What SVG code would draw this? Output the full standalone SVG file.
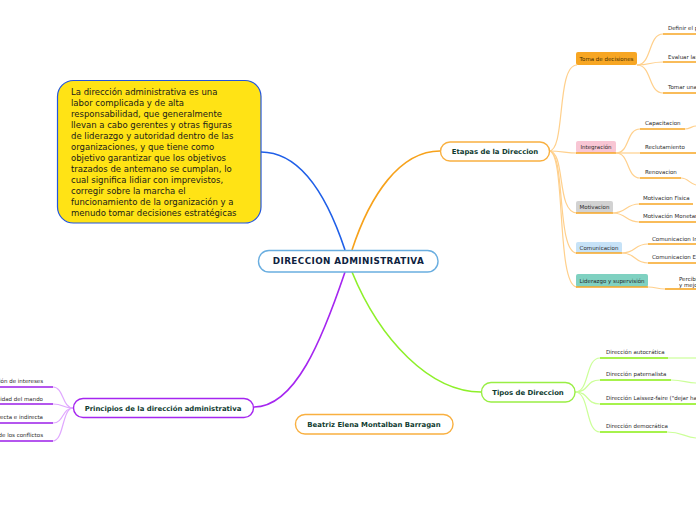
<svg xmlns="http://www.w3.org/2000/svg" width="696" height="520" viewBox="0 0 696 520">
<style>
.t{font-family:"DejaVu Sans",Verdana,sans-serif;fill:#2b2b2b}
.s{font-size:5.5px}
.m{font-size:6.9px;font-weight:bold;fill:#0f3b30;text-anchor:middle}
.lo{stroke:#ffd08c;stroke-width:1.2;fill:none}
.bo{stroke:#f7a623;stroke-width:1.6;fill:none}
.lg{stroke:#ccff99;stroke-width:1.2;fill:none}
.bg{stroke:#88ee11;stroke-width:1.6;fill:none}
.lp{stroke:#e0a8ff;stroke-width:1.2;fill:none}
.bp{stroke:#9b1ee8;stroke-width:1.6;fill:none}
</style>
<rect width="696" height="520" fill="#ffffff"/>
<g id="connectors">
<path d="M345,250 C330,205 305,152 261,152" stroke="#1f5fe8" stroke-width="1.6" fill="none"/>
<path d="M352,250 C370,195 400,151 440,151" stroke="#f7a21b" stroke-width="1.6" fill="none"/>
<path d="M352,272 C380,340 430,392 481,392" stroke="#8ef02a" stroke-width="1.6" fill="none"/>
<path d="M345,272 C322,340 295,407 254,407" stroke="#a526f0" stroke-width="1.6" fill="none"/>
<path class="lo" d="M549,151 C566,151 556,65 577,65"/>
<path class="lo" d="M549,151 C562,151 566,153 577,153"/>
<path class="lo" d="M549,151 C566,151 556,213 577,213"/>
<path class="lo" d="M549,151 C566,151 556,253 577,253"/>
<path class="lo" d="M549,151 C566,151 556,287 577,287"/>
<path class="lo" d="M637,65 C652,65 648,34 663,34"/>
<path class="lo" d="M637,65 C650,65 650,62 663,62"/>
<path class="lo" d="M637,65 C652,65 648,93 663,93"/>
<path class="lo" d="M616,153 C630,153 626,129 640,129"/>
<path class="lo" d="M616,153 L640,153"/>
<path class="lo" d="M616,153 C630,153 626,178 640,178"/>
<path class="lo" d="M685,129 C690,129 692,126 696,126"/>
<path class="lo" d="M681,178 C688,178 690,184 696,185"/>
<path class="lo" d="M613,213 C626,213 626,204 639,204"/>
<path class="lo" d="M613,213 C626,213 626,222 639,222"/>
<path class="lo" d="M622,253 C636,253 634,244 648,244"/>
<path class="lo" d="M622,253 C636,253 634,263 648,263"/>
<path class="lo" d="M648,287 C656,287 657,289 665,289"/>
<path class="lg" d="M575,392 C590,392 585,358 600,358"/>
<path class="lg" d="M575,392 C590,392 585,380 600,380"/>
<path class="lg" d="M575,392 C590,392 585,404 600,404"/>
<path class="lg" d="M575,392 C590,392 585,432 600,432"/>
<path class="lg" d="M668,358 L696,358"/>
<path class="lg" d="M671,380 C684,380 686,383 696,383"/>
<path class="lg" d="M667,432 C682,432 684,437 696,438"/>
<path class="lp" d="M73,408 C62,408 64,387 53,387"/>
<path class="lp" d="M73,408 C62,408 64,404 53,404"/>
<path class="lp" d="M73,408 C62,408 64,423 53,423"/>
<path class="lp" d="M73,408 C62,408 64,441 53,441"/>
</g>

<g id="central">
<rect x="258.5" y="250.5" width="179.5" height="21.5" rx="10.5" fill="#fff" stroke="#6aaee0" stroke-width="1.4"/>
<text class="t" x="348.5" y="264.3" font-size="8.8" font-weight="bold" letter-spacing="0.4" text-anchor="middle" style="fill:#0d2240">DIRECCION ADMINISTRATIVA</text>
</g>

<g id="nota">
<rect x="57.5" y="80.5" width="203.5" height="142.5" rx="16" fill="#ffe315" stroke="#2255dd" stroke-width="1.2"/>
<text class="t" font-size="8.5" style="fill:#1a1a1a">
<tspan x="71" y="95">La dirección administrativa es una</tspan>
<tspan x="71" y="106">labor complicada y de alta</tspan>
<tspan x="71" y="117">responsabilidad, que generalmente</tspan>
<tspan x="71" y="128">llevan a cabo gerentes y otras figuras</tspan>
<tspan x="71" y="139">de liderazgo y autoridad dentro de las</tspan>
<tspan x="71" y="150">organizaciones, y que tiene como</tspan>
<tspan x="71" y="161">objetivo garantizar que los objetivos</tspan>
<tspan x="71" y="172">trazados de antemano se cumplan, lo</tspan>
<tspan x="71" y="183">cual significa lidiar con imprevistos,</tspan>
<tspan x="71" y="194">corregir sobre la marcha el</tspan>
<tspan x="71" y="205">funcionamiento de la organización y a</tspan>
<tspan x="71" y="216">menudo tomar decisiones estratégicas</tspan>
</text>
</g>

<g id="etapas">
<rect x="440.5" y="142" width="109" height="19" rx="9.5" fill="#fff" stroke="#f9b040" stroke-width="1.4"/>
<text class="t m" x="495" y="154">Etapas de la Direccion</text>
</g>

<g id="tipos">
<rect x="481.5" y="382.5" width="93.5" height="19.5" rx="9.5" fill="#fff" stroke="#99ee44" stroke-width="1.4"/>
<text class="t m" x="528" y="394.8">Tipos de Direccion</text>
</g>

<g id="principios">
<rect x="73.5" y="398.5" width="180" height="19" rx="9.5" fill="#fff" stroke="#a526f0" stroke-width="1.4"/>
<text class="t m" x="163" y="410.6">Principios de la dirección administrativa</text>
</g>

<g id="autora">
<rect x="295.5" y="414.5" width="157.5" height="19.5" rx="9.5" fill="#fff" stroke="#f9b040" stroke-width="1.4"/>
<text class="t m" x="374" y="426.7">Beatriz Elena Montalban Barragan</text>
</g>

<g id="toma">
<rect x="576" y="52" width="61" height="13" rx="2" fill="#f7a623"/>
<text class="t s" x="606.5" y="61" text-anchor="middle" style="fill:#4a3000">Toma de decisiones</text>
<text class="t s" x="668" y="30">Definir el p</text>
<path class="bo" d="M663,34 L696,34"/>
<text class="t s" x="668" y="59">Evaluar las</text>
<path class="bo" d="M663,62 L696,62"/>
<text class="t s" x="668" y="89">Tomar una</text>
<path class="bo" d="M663,93 L696,93"/>
</g>

<g id="integracion">
<rect x="576" y="141" width="40" height="12" rx="2" fill="#f8c6d4"/>
<path class="bo" d="M576,153 L616,153"/>
<text class="t s" x="596" y="149.2" text-anchor="middle">Integración</text>
<text class="t s" x="645" y="125">Capacitacion</text>
<path class="bo" d="M640,129 L685,129"/>
<text class="t s" x="645" y="149">Reclutamiento</text>
<path class="bo" d="M640,153 L696,153"/>
<text class="t s" x="645" y="174">Renovacion</text>
<path class="bo" d="M640,178 L681,178"/>
</g>

<g id="motivacion">
<rect x="576" y="201" width="37" height="12" rx="2" fill="#d2d2d2"/>
<path class="bo" d="M576,213 L613,213"/>
<text class="t s" x="594.5" y="209.2" text-anchor="middle">Motivacion</text>
<text class="t s" x="643" y="200">Motivacion Fisica</text>
<path class="bo" d="M639,204 L693,204"/>
<text class="t s" x="643" y="218">Motivación Monetar</text>
<path class="bo" d="M639,222 L696,222"/>
</g>

<g id="comunicacion">
<rect x="576" y="242" width="46" height="11" rx="2" fill="#c6e2f7"/>
<path class="bo" d="M576,253 L622,253"/>
<text class="t s" x="599" y="249.7" text-anchor="middle">Comunicacion</text>
<text class="t s" x="652" y="241">Comunicacion In</text>
<path class="bo" d="M648,244 L696,244"/>
<text class="t s" x="652" y="259">Comunicacion E</text>
<path class="bo" d="M648,263 L696,263"/>
</g>

<g id="liderazgo">
<rect x="576" y="274" width="72" height="13" rx="2" fill="#7fd1c1"/>
<path class="bo" d="M576,287 L648,287"/>
<text class="t s" x="612" y="282.8" text-anchor="middle">Liderazgo y supervisión</text>
<text class="t s" x="679" y="281">Percibi</text>
<text class="t s" x="679" y="287">y mejo</text>
<path class="bo" d="M665,289 L696,289"/>
</g>

<g id="tipos-hijos">
<text class="t s" x="606" y="354">Dirección autocrática</text>
<path class="bg" d="M600,358 L668,358"/>
<text class="t s" x="606" y="376">Dirección paternalista</text>
<path class="bg" d="M600,380 L671,380"/>
<text class="t s" x="606" y="400">Dirección Laissez-faire ("dejar ha</text>
<path class="bg" d="M600,404 L696,404"/>
<text class="t s" x="606" y="428">Dirección democrática</text>
<path class="bg" d="M600,432 L667,432"/>
</g>

<g id="principios-hijos">
<text class="t s" x="43" y="383" text-anchor="end">Subordinación de intereses</text>
<path class="bp" d="M0,387 L53,387"/>
<text class="t s" x="43" y="401" text-anchor="end">Unidad del mando</text>
<path class="bp" d="M0,404 L53,404"/>
<text class="t s" x="43" y="419" text-anchor="end">Supervisión directa e indirecta</text>
<path class="bp" d="M0,423 L53,423"/>
<text class="t s" x="43" y="437" text-anchor="end">Resolución de los conflictos</text>
<path class="bp" d="M0,441 L53,441"/>
</g>
</svg>
